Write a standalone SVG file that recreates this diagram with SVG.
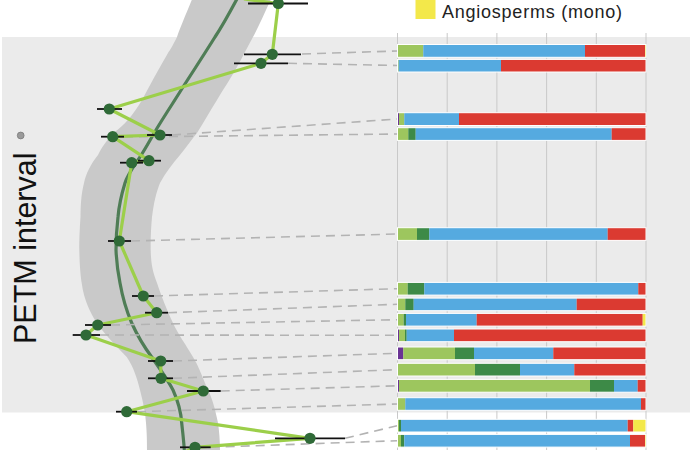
<svg xmlns="http://www.w3.org/2000/svg" width="690" height="450" viewBox="0 0 690 450">
<defs>
<style>
.lg{fill:#9dc65e}.dg{fill:#3d8a47}.bl{fill:#55aae0}.rd{fill:#db3a31}.pu{fill:#6a3394}.yl{fill:#f3e84a}
.grid{stroke:#c9c9c9;stroke-width:1}
.dash{stroke:#b3b3b3;stroke-width:1.6;stroke-dasharray:9 6;fill:none}
.eb{stroke:#111;stroke-width:1.8}
.pt{fill:#2f6a37}
.outline{fill:none;stroke:#ffffff;stroke-width:1}
</style>
</defs>
<rect x="0" y="0" width="690" height="450" fill="#ffffff"/>
<rect x="2" y="37" width="688" height="375.5" fill="#ebebeb"/>

<g id="legend">
<rect x="415.5" y="-1" width="20" height="20" class="yl"/>
<text x="442" y="17.5" font-family="Liberation Sans, Arial, sans-serif" font-size="18" fill="#222" textLength="180">Angiosperms (mono)</text>
</g>

<g id="axis-label">
<text transform="translate(36,344) rotate(-90)" font-family="Liberation Sans, Arial, sans-serif" font-size="30.5" fill="#111">PETM interval</text>
<circle cx="20.7" cy="135.5" r="3.4" fill="#9a9a9a" stroke="#7a7a7a" stroke-width="0.8"/>
</g>

<g id="grid">
<line class="grid" x1="397.5" y1="33" x2="397.5" y2="450"/>
<line class="grid" x1="447.2" y1="33" x2="447.2" y2="450"/>
<line class="grid" x1="496.9" y1="33" x2="496.9" y2="450"/>
<line class="grid" x1="546.6" y1="33" x2="546.6" y2="450"/>
<line class="grid" x1="596.3" y1="33" x2="596.3" y2="450"/>
<line class="grid" x1="646" y1="33" x2="646" y2="450"/>
</g>

<g id="ci-band">
<path d="M193,-3 C186,14 180,28 177,37 C172,47 170,50 168,53 C158,70 150,85 142,100 C133,115 124,126 113,133 C106,142 101,148 98,155 C90,165 86,174 84,183 C81,195 80.7,205 80.5,217 C79.5,232 79.3,240 79.3,250 C79.6,265 80.5,275 81.7,283 C84,300 90,312 96.7,323 C108,338 118,348 126.7,357 C134,368 137,378 140,390 C143,402 145.5,413 146,423 C147,435 147,443 147,453 L220,453 C220,443 219.5,433 218,423 C215,408 212,398 208,390 C202,376 198,365 193,357 C186,345 178,334 173,323 C167,310 162,298 157,283 C152,270 151,262 150.7,250 C150.5,238 151,228 152,217 C154,202 156,193 160,183 C166,172 173,163 180,155 C186,148 191,140 197,133 C204,122 210,111 217,100 C224,88 231,78 237,67 C243,56 248,46 253,37 C259,26 265,12 272,-3 Z" fill="#c9c9c9"/>
<path d="M238,-3 C230,12 223,25 215,37 C205,53 194,70 183,87 C175,100 167,112 159,125 C151,138 145,150 138,160 C132,169 127,176 125,183 C121,196 119,205 118,217 C116.5,230 116,240 116,250 C116.5,262 118,273 120,283 C123,300 127,312 131.7,323 C138,337 145,348 151.7,357 C160,369 168,380 173,390 C178,401 181,412 181.7,423 C183,435 184,443 184.5,453" fill="none" stroke="#4f7d56" stroke-width="3.2"/>
</g>

<g id="connectors">
<line class="dash" x1="302" y1="54" x2="397" y2="51"/>
<line class="dash" x1="288" y1="63.3" x2="397" y2="65.5"/>
<line class="dash" x1="172" y1="135" x2="397" y2="119"/>
<line class="dash" x1="124" y1="137" x2="397" y2="134"/>
<line class="dash" x1="131" y1="241" x2="397" y2="234"/>
<line class="dash" x1="154" y1="296" x2="397" y2="288.7"/>
<line class="dash" x1="168" y1="312.7" x2="397" y2="304.3"/>
<line class="dash" x1="111" y1="325" x2="397" y2="319.7"/>
<line class="dash" x1="100" y1="335" x2="397" y2="335.3"/>
<line class="dash" x1="173" y1="361" x2="397" y2="353.3"/>
<line class="dash" x1="173" y1="378.3" x2="397" y2="369.7"/>
<line class="dash" x1="220.7" y1="391" x2="397" y2="385.8"/>
<line class="dash" x1="137" y1="411.7" x2="397" y2="404"/>
<line class="dash" x1="345" y1="438.3" x2="397" y2="425.7"/>
<line class="dash" x1="210.7" y1="447.3" x2="397" y2="440.7"/>
<polyline fill="none" stroke="#9ccf4a" stroke-width="3.2" stroke-linejoin="round" points="244,-1 278.3,3.5 272.3,54.3 261,63.3 109.3,109 160,135 112.7,136.7 149,160.7 131.7,162.7 119.3,241 143.3,296 156.7,312.7 97.7,325 86,335 160.7,361 161,378.3 203.3,391 126.7,411.7 310,438.3 195,447.3 178,455"/>
</g>

<g id="points">
<g id="p1"><line class="eb" x1="248" y1="3.5" x2="308" y2="3.5"/><circle class="pt" cx="278.3" cy="3.5" r="5.6"/></g>
<g id="p2"><line class="eb" x1="244" y1="54.3" x2="301" y2="54.3"/><circle class="pt" cx="272.3" cy="54.3" r="5.6"/></g>
<g id="p3"><line class="eb" x1="234" y1="63.3" x2="288" y2="63.3"/><circle class="pt" cx="261" cy="63.3" r="5.6"/></g>
<g id="p4"><line class="eb" x1="97" y1="109" x2="122" y2="109"/><circle class="pt" cx="109.3" cy="109" r="5.6"/></g>
<g id="p5"><line class="eb" x1="147" y1="135" x2="172" y2="135"/><circle class="pt" cx="160" cy="135" r="5.6"/></g>
<g id="p6"><line class="eb" x1="101" y1="136.7" x2="124" y2="136.7"/><circle class="pt" cx="112.7" cy="136.7" r="5.6"/></g>
<g id="p7"><line class="eb" x1="138" y1="160.7" x2="161" y2="160.7"/><circle class="pt" cx="149" cy="160.7" r="5.6"/></g>
<g id="p8"><line class="eb" x1="120" y1="162.7" x2="143" y2="162.7"/><circle class="pt" cx="131.7" cy="162.7" r="5.6"/></g>
<g id="p9"><line class="eb" x1="108" y1="241" x2="131" y2="241"/><circle class="pt" cx="119.3" cy="241" r="5.6"/></g>
<g id="p10"><line class="eb" x1="132" y1="296" x2="154" y2="296"/><circle class="pt" cx="143.3" cy="296" r="5.6"/></g>
<g id="p11"><line class="eb" x1="145" y1="312.7" x2="168" y2="312.7"/><circle class="pt" cx="156.7" cy="312.7" r="5.6"/></g>
<g id="p12"><line class="eb" x1="85" y1="325" x2="111" y2="325"/><circle class="pt" cx="97.7" cy="325" r="5.6"/></g>
<g id="p13"><line class="eb" x1="72.7" y1="335" x2="100" y2="335"/><circle class="pt" cx="86" cy="335" r="5.6"/></g>
<g id="p14"><line class="eb" x1="148" y1="361" x2="173" y2="361"/><circle class="pt" cx="160.7" cy="361" r="5.6"/></g>
<g id="p15"><line class="eb" x1="148" y1="378.3" x2="173" y2="378.3"/><circle class="pt" cx="161" cy="378.3" r="5.6"/></g>
<g id="p16"><line class="eb" x1="187" y1="391" x2="220.7" y2="391"/><circle class="pt" cx="203.3" cy="391" r="5.6"/></g>
<g id="p17"><line class="eb" x1="116" y1="411.7" x2="137" y2="411.7"/><circle class="pt" cx="126.7" cy="411.7" r="5.6"/></g>
<g id="p18"><line class="eb" x1="275" y1="438.3" x2="345" y2="438.3"/><circle class="pt" cx="310" cy="438.3" r="5.6"/></g>
<g id="p19"><line class="eb" x1="180" y1="447.3" x2="210.7" y2="447.3"/><circle class="pt" cx="195" cy="447.3" r="5.6"/></g>
</g>

<g id="bars">
<g id="bar1"><rect class="lg" x="397.5" y="44.5" width="25.8" height="12.8"/><rect class="bl" x="423.3" y="44.5" width="161.7" height="12.8"/><rect class="rd" x="585" y="44.5" width="60" height="12.8"/><rect class="yl" x="645" y="44.5" width="1" height="12.8"/><rect class="outline" x="397.5" y="44.5" width="248.5" height="12.8"/></g>
<g id="bar2"><rect class="lg" x="397.5" y="59.4" width="1.2" height="12.6"/><rect class="bl" x="398.7" y="59.4" width="102.3" height="12.6"/><rect class="rd" x="501" y="59.4" width="145" height="12.6"/><rect class="outline" x="397.5" y="59.4" width="248.5" height="12.6"/></g>
<g id="bar3"><rect class="pu" x="397.5" y="112.7" width="1.5" height="12.8"/><rect class="lg" x="399" y="112.7" width="5.3" height="12.8"/><rect class="bl" x="404.3" y="112.7" width="54.7" height="12.8"/><rect class="rd" x="459" y="112.7" width="187" height="12.8"/><rect class="outline" x="397.5" y="112.7" width="248.5" height="12.8"/></g>
<g id="bar4"><rect class="lg" x="397.5" y="127.7" width="10.8" height="12.7"/><rect class="dg" x="408.3" y="127.7" width="7.4" height="12.7"/><rect class="bl" x="415.7" y="127.7" width="196" height="12.7"/><rect class="rd" x="611.7" y="127.7" width="34.3" height="12.7"/><rect class="outline" x="397.5" y="127.7" width="248.5" height="12.7"/></g>
<g id="bar5"><rect class="lg" x="397.5" y="227.7" width="19.5" height="12.7"/><rect class="dg" x="417" y="227.7" width="12.3" height="12.7"/><rect class="bl" x="429.3" y="227.7" width="178.4" height="12.7"/><rect class="rd" x="607.7" y="227.7" width="38.3" height="12.7"/><rect class="outline" x="397.5" y="227.7" width="248.5" height="12.7"/></g>
<g id="bar6"><rect class="lg" x="397.5" y="282.4" width="10.2" height="12.7"/><rect class="dg" x="407.7" y="282.4" width="16.6" height="12.7"/><rect class="bl" x="424.3" y="282.4" width="214" height="12.7"/><rect class="rd" x="638.3" y="282.4" width="7.7" height="12.7"/><rect class="outline" x="397.5" y="282.4" width="248.5" height="12.7"/></g>
<g id="bar7"><rect class="lg" x="397.5" y="298.1" width="7.8" height="12.6"/><rect class="dg" x="405.3" y="298.1" width="8.4" height="12.6"/><rect class="bl" x="413.7" y="298.1" width="163" height="12.6"/><rect class="rd" x="576.7" y="298.1" width="69.3" height="12.6"/><rect class="outline" x="397.5" y="298.1" width="248.5" height="12.6"/></g>
<g id="bar8"><rect class="lg" x="397.5" y="313.4" width="6.2" height="12.7"/><rect class="dg" x="403.7" y="313.4" width="2.3" height="12.7"/><rect class="bl" x="406" y="313.4" width="70.7" height="12.7"/><rect class="rd" x="476.7" y="313.4" width="166" height="12.7"/><rect class="yl" x="642.7" y="313.4" width="3.3" height="12.7"/><rect class="outline" x="397.5" y="313.4" width="248.5" height="12.7"/></g>
<g id="bar9"><rect class="pu" x="397.5" y="329" width="1.5" height="12.7"/><rect class="lg" x="399" y="329" width="6" height="12.7"/><rect class="dg" x="405" y="329" width="1.7" height="12.7"/><rect class="bl" x="406.7" y="329" width="47.3" height="12.7"/><rect class="rd" x="454" y="329" width="192" height="12.7"/><rect class="outline" x="397.5" y="329" width="248.5" height="12.7"/></g>
<g id="bar10"><rect class="pu" x="397.5" y="347" width="5.8" height="12.7"/><rect class="lg" x="403.3" y="347" width="51.7" height="12.7"/><rect class="dg" x="455" y="347" width="19" height="12.7"/><rect class="bl" x="474" y="347" width="79.3" height="12.7"/><rect class="rd" x="553.3" y="347" width="92.7" height="12.7"/><rect class="outline" x="397.5" y="347" width="248.5" height="12.7"/></g>
<g id="bar11"><rect class="lg" x="397.5" y="363.3" width="77.5" height="12.7"/><rect class="dg" x="475" y="363.3" width="45" height="12.7"/><rect class="bl" x="520" y="363.3" width="54.3" height="12.7"/><rect class="rd" x="574.3" y="363.3" width="71.7" height="12.7"/><rect class="outline" x="397.5" y="363.3" width="248.5" height="12.7"/></g>
<g id="bar12"><rect class="pu" x="397.5" y="379.4" width="1.5" height="12.8"/><rect class="lg" x="399" y="379.4" width="191" height="12.8"/><rect class="dg" x="590" y="379.4" width="24" height="12.8"/><rect class="bl" x="614" y="379.4" width="23.7" height="12.8"/><rect class="rd" x="637.7" y="379.4" width="8.3" height="12.8"/><rect class="outline" x="397.5" y="379.4" width="248.5" height="12.8"/></g>
<g id="bar13"><rect class="lg" x="397.5" y="397.7" width="7.8" height="12.6"/><rect class="bl" x="405.3" y="397.7" width="235.7" height="12.6"/><rect class="rd" x="641" y="397.7" width="5" height="12.6"/><rect class="outline" x="397.5" y="397.7" width="248.5" height="12.6"/></g>
<g id="bar14"><rect class="lg" x="397.5" y="419.3" width="1.5" height="12.7"/><rect class="dg" x="399" y="419.3" width="2" height="12.7"/><rect class="bl" x="401" y="419.3" width="226.7" height="12.7"/><rect class="rd" x="627.7" y="419.3" width="5.6" height="12.7"/><rect class="yl" x="633.3" y="419.3" width="12.7" height="12.7"/><rect class="outline" x="397.5" y="419.3" width="248.5" height="12.7"/></g>
<g id="bar15"><rect class="lg" x="397.5" y="434.4" width="3.5" height="12.7"/><rect class="dg" x="401" y="434.4" width="3.3" height="12.7"/><rect class="bl" x="404.3" y="434.4" width="225.7" height="12.7"/><rect class="rd" x="630" y="434.4" width="15" height="12.7"/><rect class="yl" x="645" y="434.4" width="1" height="12.7"/><rect class="outline" x="397.5" y="434.4" width="248.5" height="12.7"/></g>
</g>
</svg>
